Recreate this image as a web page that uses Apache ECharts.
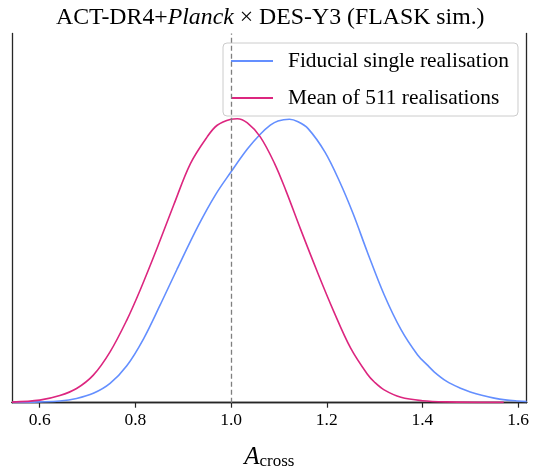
<!DOCTYPE html>
<html><head><meta charset="utf-8">
<script src="https://cdn.jsdelivr.net/npm/echarts@6/dist/echarts.min.js"></script>
<style>html,body{margin:0;padding:0;background:#fff}#c{width:534px;height:466px}</style>
</head><body><div id="c"></div>
<script>
// ---- data ----
const seriesNames = ['Fiducial single realisation', 'Mean of 511 realisations'];
const fidX = [0.542,0.60,0.642,0.677,0.712,0.747,0.782,0.817,0.852,0.887,0.932,0.967,1.00,1.034,1.061,1.082,1.098,1.122,1.140,1.161,1.196,1.227,1.255,1.285,1.320,1.355,1.390,1.410,1.425,1.450,1.481,1.500,1.524,1.550,1.573,1.600,1.618];
const fidY = [0.001,0.003,0.006,0.015,0.033,0.068,0.130,0.225,0.345,0.470,0.625,0.731,0.813,0.893,0.945,0.977,0.992,0.998,0.989,0.965,0.883,0.778,0.666,0.530,0.380,0.258,0.168,0.133,0.108,0.076,0.050,0.038,0.026,0.016,0.010,0.006,0.004];
const meanX = [0.542,0.60,0.642,0.677,0.712,0.747,0.782,0.810,0.845,0.880,0.915,0.950,0.971,1.00,1.013,1.034,1.061,1.091,1.115,1.145,1.180,1.215,1.250,1.285,1.300,1.320,1.355,1.40,1.45,1.57];
const meanY = [0.002,0.009,0.025,0.050,0.097,0.179,0.291,0.397,0.543,0.696,0.842,0.936,0.977,0.998,1.000,0.985,0.936,0.842,0.745,0.612,0.462,0.320,0.192,0.100,0.072,0.045,0.019,0.007,0.003,0.001];
const xTicks = [0.6, 0.8, 1.0, 1.2, 1.4, 1.6];
const xRange = [0.542, 1.618];
const yRange = [0, 1.3];
const refLine = 1.0;
const colors = ['#648FFF', '#DC267F'];

const FONT = 'Liberation Serif';
const zip = (xs, ys) => xs.map((x, i) => [x, ys[i]]);

const chart = echarts.init(document.getElementById('c'), null, {renderer: 'canvas'});
const frame = {show: true, lineStyle: {color: '#262626', width: 1.3}};
chart.setOption({
  animation: false,
  backgroundColor: '#fff',
  title: {
    text: '{a|ACT-DR4+}{b|Planck}{a| × DES-Y3 (FLASK sim.)}',
    left: 51, top: 1,
    textStyle: {
      fontWeight: 'normal',
      rich: {
        a: {fontFamily: FONT, fontSize: 23.8, fontWeight: 'normal', color: '#000'},
        b: {fontFamily: FONT, fontSize: 23.8, fontWeight: 'normal', fontStyle: 'italic', color: '#000'}
      }
    }
  },
  legend: {
    orient: 'vertical',
    left: 223, top: 43,
    padding: [7, 9, 7, 8],
    itemGap: 15,
    itemWidth: 42, itemHeight: 2,
    icon: 'rect',
    backgroundColor: 'rgba(255,255,255,0.8)',
    borderColor: '#cccccc', borderWidth: 1, borderRadius: 4,
    textStyle: {fontFamily: FONT, fontSize: 21.4, color: '#000', lineHeight: 22, padding: [0, 0, 0, 10]},
    data: seriesNames
  },
  grid: {left: 12, right: 7.3, top: 33.5, bottom: 63.3, containLabel: false, outerBoundsMode: 'none'},
  xAxis: [{
    type: 'value', min: xRange[0], max: xRange[1],
    axisLine: frame,
    axisTick: {show: true, inside: false, length: 5, lineStyle: {color: '#262626', width: 1.2}, customValues: xTicks},
    axisLabel: {customValues: xTicks, fontFamily: FONT, fontSize: 17.5, color: '#000', margin: 9,
      formatter: v => v.toFixed(1)},
    splitLine: {show: false},
    name: '{a|A}{s|cross}', nameLocation: 'middle', nameGap: 42,
    nameTextStyle: {rich: {
      a: {fontFamily: FONT, fontSize: 25, fontStyle: 'italic', color: '#000', verticalAlign: 'bottom'},
      s: {fontFamily: FONT, fontSize: 17, color: '#000', verticalAlign: 'bottom', padding: [8, 0, 0, 0]}
    }}
  }, {
    type: 'value', position: 'top', min: xRange[0], max: xRange[1],
    axisLine: frame, axisTick: {show: false}, axisLabel: {show: false}, splitLine: {show: false}
  }],
  yAxis: [{
    type: 'value', min: yRange[0], max: yRange[1], position: 'left',
    axisLine: frame, axisTick: {show: false}, axisLabel: {show: false}, splitLine: {show: false}
  }, {
    type: 'value', min: yRange[0], max: yRange[1], position: 'right',
    axisLine: frame, axisTick: {show: false}, axisLabel: {show: false}, splitLine: {show: false}
  }],
  series: [{
    name: seriesNames[0], type: 'line', data: zip(fidX, fidY),
    smooth: 0.35, symbol: 'none',
    lineStyle: {color: colors[0], width: 1.6}, itemStyle: {color: colors[0]},
    markLine: {
      silent: true, symbol: 'none', label: {show: false},
      lineStyle: {color: '#7f7f7f', type: [5, 3], width: 1.3},
      data: [{xAxis: refLine}]
    }
  }, {
    name: seriesNames[1], type: 'line', data: zip(meanX, meanY),
    smooth: 0.35, symbol: 'none',
    lineStyle: {color: colors[1], width: 1.6}, itemStyle: {color: colors[1]}
  }]
});
</script>
</body></html>
